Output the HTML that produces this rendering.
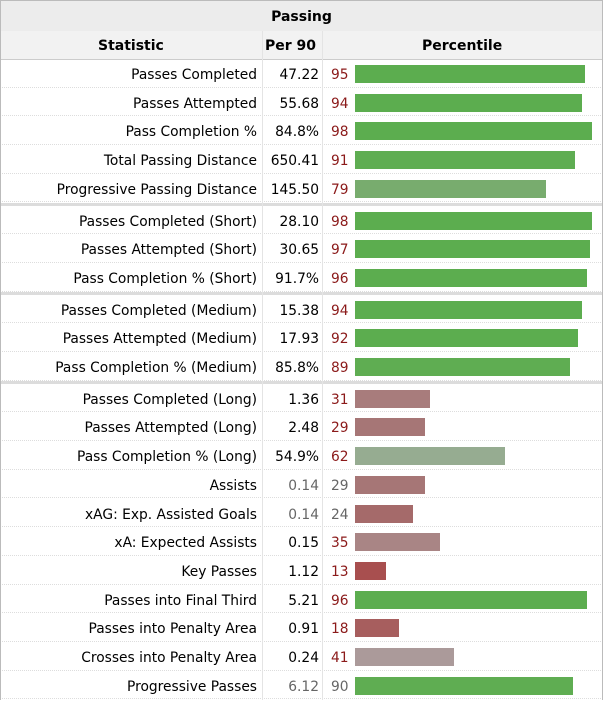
<!DOCTYPE html>
<html><head><meta charset="utf-8"><style>
body{margin:0;width:603px;height:700px;background:#fff;font-family:"DejaVu Sans","Liberation Sans",sans-serif;font-size:13.8px;color:#000;position:relative;overflow:hidden}
.a{position:absolute}
.t{left:0;top:0;width:601px;height:30px;background:#ececec;border:1px solid #bbb;text-align:center;line-height:32px;font-weight:bold;font-size:14px}
.h{left:0;top:31px;width:603px;height:28px;background:#f2f2f2;border-bottom:1px solid #ccc;font-weight:bold;font-size:14px}
.row{left:0;width:603px;height:28.7px;line-height:32px;border-bottom:1px dotted #ddd;box-sizing:border-box}
.s{position:absolute;right:346px;}
.v{position:absolute;right:284px;}
.p{position:absolute;left:331px;color:#8b1a1a}
.b{position:absolute;left:355px;top:6px;height:18px}
.g{color:#666!important}
.sep{left:0;width:603px;height:3px;background:#dcdcdc}
.vl{top:31px;width:1px;height:669px;background:#e4e4e4}
</style></head><body>
<div class="a t">Passing</div>
<div class="a h"><span class="a" style="left:98px;top:7px">Statistic</span><span class="a" style="left:265px;top:7px">Per 90</span><span class="a" style="left:422px;top:7px">Percentile</span></div>
<div id="c"></div>
<div class="a vl" style="left:262px"></div>
<div class="a vl" style="left:322px"></div>
<div class="a" style="left:0;top:31px;width:1px;height:669px;background:#bbb"></div>
<div class="a" style="left:602px;top:31px;width:1px;height:669px;background:#bbb"></div>
<script>
var d=[
["Passes Completed","47.22",95,"#5cad4f"],["Passes Attempted","55.68",94,"#5cad4f"],["Pass Completion %","84.8%",98,"#5cad4f"],["Total Passing Distance","650.41",91,"#5fad52"],["Progressive Passing Distance","145.50",79,"#78ac6e"],0,
["Passes Completed (Short)","28.10",98,"#5cad4f"],["Passes Attempted (Short)","30.65",97,"#5cad4f"],["Pass Completion % (Short)","91.7%",96,"#5cad4f"],0,
["Passes Completed (Medium)","15.38",94,"#5cad4f"],["Passes Attempted (Medium)","17.93",92,"#5cad4f"],["Pass Completion % (Medium)","85.8%",89,"#5fad52"],0,
["Passes Completed (Long)","1.36",31,"#a87c7c"],["Passes Attempted (Long)","2.48",29,"#a67676"],["Pass Completion % (Long)","54.9%",62,"#96ac91"],
["Assists","0.14",29,"#a67676",1],["xAG: Exp. Assisted Goals","0.14",24,"#a56a6a",1],["xA: Expected Assists","0.15",35,"#a98585"],["Key Passes","1.12",13,"#a84f4f"],
["Passes into Final Third","5.21",96,"#5cad4f"],["Passes into Penalty Area","0.91",18,"#a75e5e"],["Crosses into Penalty Area","0.24",41,"#ab9a9a"],["Progressive Passes","6.12",90,"#5fad52",1]];
var y=59,h="";
d.forEach(function(r){
 if(!r){h+='<div class="a sep" style="top:'+y+'px"></div>';y+=3;return;}
 var g=r[4]?' g':'';
 h+='<div class="a row" style="top:'+y+'px"><span class="s">'+r[0]+'</span><span class="v'+g+'">'+r[1]+'</span><span class="p'+g+'">'+r[2]+'</span><div class="b" style="width:'+(r[2]*2.42)+'px;background:'+r[3]+'"></div></div>';
 y+=28.7;
});
document.getElementById('c').innerHTML=h;
</script>
</body></html>
